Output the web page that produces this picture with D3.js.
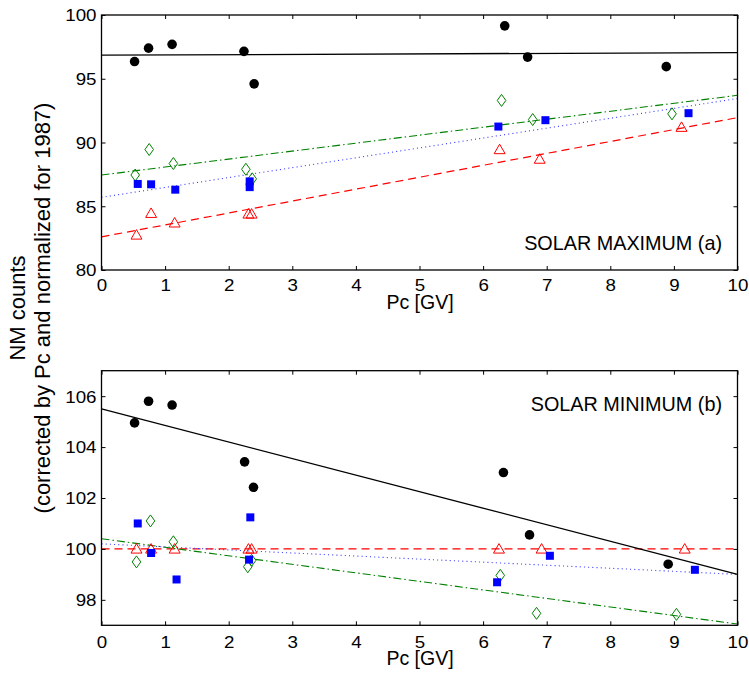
<!DOCTYPE html>
<html>
<head>
<meta charset="utf-8">
<script src="https://cdn.jsdelivr.net/npm/d3@7"></script>
<style>
  body { margin: 0; background: #fff; }
  svg { font-family: "Liberation Sans", Arial, sans-serif; }
</style>
</head>
<body>
<svg id="chart" width="749" height="675"></svg>
<script>
// ---- data ----
// solar maximum (a)
const maxCircles = [[0.52, 96.35], [0.74, 97.4], [1.11, 97.7], [2.24, 97.15], [2.40, 94.6], [6.34, 99.15], [6.70, 96.7], [8.88, 95.95]]
const maxSquares = [[0.57, 86.75], [0.78, 86.72], [1.16, 86.3], [2.33, 86.95], [2.33, 86.5], [6.24, 91.25], [6.98, 91.75], [9.23, 92.3]]
const maxDiamonds = [[0.53, 87.45], [0.75, 89.45], [1.13, 88.35], [2.27, 87.9], [2.37, 87.15], [6.29, 93.3], [6.78, 91.8], [8.97, 92.25]]
const maxTriangles = [[0.55, 82.75], [0.78, 84.45], [1.15, 83.7], [2.31, 84.4], [2.36, 84.4], [6.26, 89.45], [6.89, 88.7], [9.12, 91.2]]
// fitted lines: [value at 0, value at 10]
const maxFits = { solid: [96.85, 97.05], dashdot: [87.45, 93.7], dotted: [85.7, 93.45], dashed: [82.6, 91.95] }

// solar minimum (b)
const minCircles = [[0.52, 104.95], [0.74, 105.8], [1.11, 105.65], [2.25, 103.42], [2.39, 102.42], [6.32, 103.0], [6.73, 100.55], [8.91, 99.4]]
const minSquares = [[0.57, 101.0], [0.78, 99.84], [1.18, 98.8], [2.34, 101.24], [2.32, 99.58], [6.22, 98.69], [7.05, 99.73], [9.33, 99.18]]
const minDiamonds = [[0.55, 99.49], [0.77, 101.1], [1.13, 100.28], [2.30, 99.3], [2.36, 99.55], [6.27, 98.96], [6.84, 97.47], [9.04, 97.43]]
const minTriangles = [[0.55, 100.0], [0.78, 100.0], [1.15, 100.0], [2.31, 100.0], [2.36, 100.0], [6.25, 100.0], [6.92, 100.0], [9.17, 100.0]]
const minFits = { solid: [105.5, 99.0], dashdot: [100.4, 97.05], dotted: [100.2, 99.0], dashed: [100.0, 100.0] }

const xTicks = [0, 1, 2, 3, 4, 5, 6, 7, 8, 9, 10]
const maxYTicks = [80, 85, 90, 95, 100]
const minYTicks = [98, 100, 102, 104, 106]

const svg = d3.select("#chart")
const LEFT = 101.5, RIGHT = 737.5
const STRETCH = 1.15   // tick labels in the source are a bit wider than tall

function drawPanel(cfg) {
    const x = d3.scaleLinear().domain([0, 10]).range([LEFT, RIGHT])
    const y = d3.scaleLinear().domain(cfg.yDomain).range([cfg.bottom, cfg.top])
    const g = svg.append("g")

    g.append("defs").append("clipPath").attr("id", cfg.id)
        .append("rect").attr("x", LEFT).attr("y", cfg.top)
        .attr("width", RIGHT - LEFT).attr("height", cfg.bottom - cfg.top)

    const plot = g.append("g").attr("clip-path", "url(#" + cfg.id + ")")

    // fit lines
    const lineStyles = [
        { key: "dashed", color: "#ff0000", dash: "8,5", w: 1.2 },
        { key: "dotted", color: "#3333ff", dash: "1,3.2", w: 1.1 },
        { key: "dashdot", color: "#008000", dash: "8,3,1.5,3", w: 1.1 },
        { key: "solid", color: "#000", dash: null, w: 1.3 }
    ]
    lineStyles.forEach(s => {
        const v = cfg.fits[s.key]
        plot.append("line")
            .attr("x1", x(0)).attr("y1", y(v[0]))
            .attr("x2", x(10)).attr("y2", y(v[1]))
            .attr("stroke", s.color).attr("stroke-width", s.w)
            .attr("stroke-dasharray", s.dash)
    })

    // markers
    plot.selectAll(".tri").data(cfg.triangles).enter().append("path")
        .attr("d", d3.symbol(d3.symbolTriangle, 52)())
        .attr("transform", d => "translate(" + x(d[0]) + "," + (y(d[1]) + 1) + ")")
        .attr("fill", "none").attr("stroke", "#ff0000").attr("stroke-width", 1)

    plot.selectAll(".dia").data(cfg.diamonds).enter().append("path")
        .attr("d", "M0,-6L4.3,0L0,6L-4.3,0Z")
        .attr("transform", d => "translate(" + x(d[0]) + "," + y(d[1]) + ")")
        .attr("fill", "none").attr("stroke", "#008000").attr("stroke-width", 1)

    plot.selectAll(".sq").data(cfg.squares).enter().append("rect")
        .attr("x", d => x(d[0]) - 4).attr("y", d => y(d[1]) - 4)
        .attr("width", 8).attr("height", 8)
        .attr("fill", "#0000ff")

    plot.selectAll(".dot").data(cfg.circles).enter().append("circle")
        .attr("cx", d => x(d[0])).attr("cy", d => y(d[1]))
        .attr("r", 4.8).attr("fill", "#000")

    // axes with inward ticks on all four sides
    const TL = 4
    const xb = g.append("g").attr("transform", "translate(0," + cfg.bottom + ")")
        .call(d3.axisBottom(x).tickValues(xTicks).tickSize(-TL).tickFormat(d3.format("d")).tickSizeOuter(0))
    xb.selectAll(".tick text").attr("dy", null).attr("y", cfg.tickBase)
        .attr("transform", "scale(" + STRETCH + ",1)")
    g.append("g").attr("transform", "translate(0," + cfg.top + ")")
        .call(d3.axisTop(x).tickValues(xTicks).tickSize(-TL).tickFormat("").tickSizeOuter(0))
    const yl = g.append("g").attr("transform", "translate(" + LEFT + ",0)")
        .call(d3.axisLeft(y).tickValues(cfg.yTicks).tickSize(-TL).tickSizeOuter(0))
    yl.selectAll(".tick text").attr("x", -5 / STRETCH).attr("dy", "0.36em")
        .attr("transform", "scale(" + STRETCH + ",1)")
    g.append("g").attr("transform", "translate(" + RIGHT + ",0)")
        .call(d3.axisRight(y).tickValues(cfg.yTicks).tickSize(-TL).tickFormat("").tickSizeOuter(0))

    g.selectAll(".tick line").attr("stroke", "#000").attr("stroke-width", 1)
    g.selectAll(".domain").remove()
    g.selectAll(".tick text").attr("font-size", 16.3).attr("fill", "#000")
        .attr("font-family", "Liberation Sans, Arial, sans-serif")

    g.append("rect").attr("x", LEFT).attr("y", cfg.top)
        .attr("width", RIGHT - LEFT).attr("height", cfg.bottom - cfg.top)
        .attr("fill", "none").attr("stroke", "#000").attr("stroke-width", 1.3)

    g.append("text").attr("x", 420).attr("y", cfg.bottom + cfg.xLabelOffset)
        .attr("text-anchor", "middle").attr("font-size", 19.5).text("Pc [GV]")

    g.append("text").attr("x", 722).attr("y", cfg.titleY)
        .attr("text-anchor", "end").attr("font-size", 19.8).text(cfg.title)
}

drawPanel({
    id: "clipMax", top: 15, bottom: 270, yDomain: [80, 100], yTicks: maxYTicks,
    circles: maxCircles, squares: maxSquares, diamonds: maxDiamonds, triangles: maxTriangles,
    fits: maxFits, title: "SOLAR MAXIMUM (a)", titleY: 250, xLabelOffset: 38.5, tickBase: 21.2
})

drawPanel({
    id: "clipMin", top: 370.7, bottom: 625.3, yDomain: [97, 107], yTicks: minYTicks,
    circles: minCircles, squares: minSquares, diamonds: minDiamonds, triangles: minTriangles,
    fits: minFits, title: "SOLAR MINIMUM (b)", titleY: 411, xLabelOffset: 39.5, tickBase: 22.5
})

// shared y label
const ylab = svg.append("text").attr("transform", "translate(0,308) rotate(-90)")
    .attr("text-anchor", "middle").attr("font-size", 22)
ylab.append("tspan").attr("x", 0).attr("y", 25).text("NM counts")
ylab.append("tspan").attr("x", 0).attr("y", 50).text("(corrected by Pc and normalized for 1987)")
</script>
</body>
</html>
